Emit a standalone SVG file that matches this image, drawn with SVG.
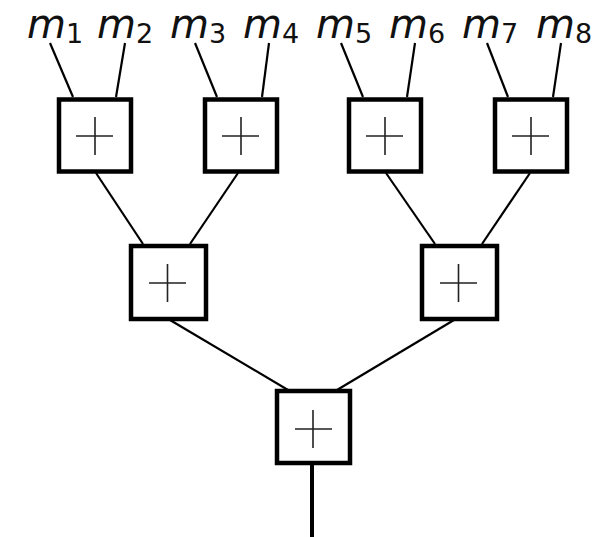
<svg xmlns="http://www.w3.org/2000/svg" width="608" height="537" viewBox="0 0 608 537">
<style>
.box{fill:#fff;stroke:#000;stroke-width:4.5}
.plus{stroke:#222;stroke-width:1.6;fill:none}
.edge{stroke:#000;stroke-width:2.2;fill:none}
.out{stroke:#000;stroke-width:4;fill:none}
.lbl{font-family:"DejaVu Sans",sans-serif;font-size:40px;fill:#111}
.m{font-style:italic}
.sub{font-size:27px;font-style:normal}
</style>
<rect width="608" height="537" fill="#fff"/>
<g id="connectors">
<line class="edge" x1="50" y1="43" x2="73" y2="97"/>
<line class="edge" x1="125" y1="43" x2="116" y2="97"/>
<line class="edge" x1="195" y1="43" x2="217" y2="97"/>
<line class="edge" x1="269" y1="43" x2="262" y2="97"/>
<line class="edge" x1="341" y1="43" x2="363" y2="97"/>
<line class="edge" x1="415" y1="43" x2="407" y2="97"/>
<line class="edge" x1="487" y1="43" x2="508" y2="97"/>
<line class="edge" x1="561" y1="43" x2="553" y2="97"/>
<line class="edge" x1="96" y1="173" x2="143" y2="244"/>
<line class="edge" x1="238" y1="173" x2="190" y2="244"/>
<line class="edge" x1="386" y1="173" x2="435" y2="244"/>
<line class="edge" x1="530" y1="173" x2="482" y2="244"/>
<line class="edge" x1="170" y1="320" x2="288" y2="390"/>
<line class="edge" x1="454" y1="320" x2="337" y2="390"/>
<line class="out" x1="312" y1="464" x2="312" y2="537"/>
</g>
<g id="labels" class="lbl">
<text x="27" y="38"><tspan class="m">m</tspan><tspan class="sub" dy="5">1</tspan></text>
<text x="97" y="38"><tspan class="m">m</tspan><tspan class="sub" dy="5">2</tspan></text>
<text x="170" y="38"><tspan class="m">m</tspan><tspan class="sub" dy="5">3</tspan></text>
<text x="243" y="38"><tspan class="m">m</tspan><tspan class="sub" dy="5">4</tspan></text>
<text x="316" y="38"><tspan class="m">m</tspan><tspan class="sub" dy="5">5</tspan></text>
<text x="389" y="38"><tspan class="m">m</tspan><tspan class="sub" dy="5">6</tspan></text>
<text x="462" y="38"><tspan class="m">m</tspan><tspan class="sub" dy="5">7</tspan></text>
<text x="536" y="38"><tspan class="m">m</tspan><tspan class="sub" dy="5">8</tspan></text>
</g>
<g id="add1"><rect class="box" x="59" y="99.5" width="72" height="72"/><path class="plus" d="M76 136H113M95 117V155"/></g>
<g id="add2"><rect class="box" x="205" y="99.5" width="72" height="72"/><path class="plus" d="M222 136H259M241 117V155"/></g>
<g id="add3"><rect class="box" x="349" y="99.5" width="72" height="72"/><path class="plus" d="M366 136H403M385 117V155"/></g>
<g id="add4"><rect class="box" x="495" y="99.5" width="72" height="72"/><path class="plus" d="M512 136H549M531 117V155"/></g>
<g id="add5"><rect class="box" x="131" y="246" width="75" height="73"/><path class="plus" d="M149 283H186M167.5 264V302"/></g>
<g id="add6"><rect class="box" x="422" y="246" width="75" height="73"/><path class="plus" d="M440 283H477M458.5 264V302"/></g>
<g id="add7"><rect class="box" x="277" y="391" width="73" height="72"/><path class="plus" d="M295 429H332M313 410V448"/></g>
</svg>
